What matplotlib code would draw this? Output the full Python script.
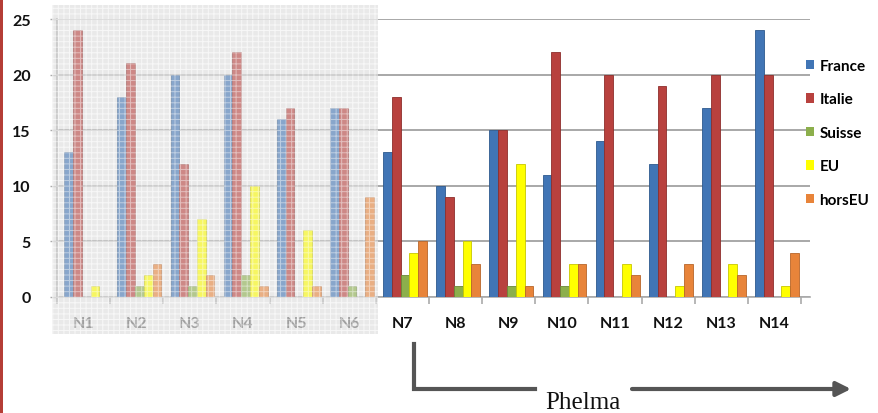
import matplotlib
matplotlib.use("Agg")
import matplotlib.pyplot as plt
import numpy as np
from matplotlib.patches import Rectangle, FancyArrowPatch
from matplotlib.lines import Line2D

categories = ["N1", "N2", "N3", "N4", "N5", "N6", "N7", "N8", "N9", "N10", "N11", "N12", "N13", "N14"]
series_names = ["France", "Italie", "Suisse", "EU", "horsEU"]
france = [13, 18, 20, 20, 16, 17, 13, 10, 15, 11, 14, 12, 17, 24]
italie = [24, 21, 12, 22, 17, 17, 18, 9, 15, 22, 20, 19, 20, 20]
suisse = [0, 1, 1, 2, 0, 1, 2, 1, 1, 1, 0, 0, 0, 0]
eu = [1, 2, 7, 10, 6, 0, 4, 5, 12, 3, 3, 1, 3, 1]
horseu = [0, 3, 2, 1, 1, 9, 5, 3, 1, 3, 2, 3, 2, 4]
yticks = [0, 5, 10, 15, 20, 25]
arrow_label = "Phelma"

colors = ["#4175B5", "#B8413E", "#8CAF4C", "#FFFF00", "#E8843A"]
edges = ["#2E5A8E", "#8E2E2C", "#6A8838", "#C8C800", "#B8652A"]

plt.rcParams["hatch.linewidth"] = 0.7

W, H = 879, 414
fig = plt.figure(figsize=(W / 100, H / 100), dpi=100)
fig.patch.set_facecolor("white")

def fx(px):
    return px / W

def fy(py):
    return 1 - py / H

# grey background region behind the first six groups
fig.add_artist(Rectangle((fx(52), fy(335)), fx(378 - 52), (335 - 6) / H, transform=fig.transFigure,
                         facecolor="#e9e9e9", edgecolor="#f6f6f6", hatch="+++",
                         linewidth=0, zorder=-2))

left_px, right_px, top_px, bot_px = 57, 810, 20, 298
ax = fig.add_axes([fx(left_px), fy(bot_px), fx(right_px - left_px), (bot_px - top_px) / H])
ax.patch.set_visible(False)

x = np.arange(len(categories))
data = [france, italie, suisse, eu, horseu]
bw = 0.165
offsets = (np.arange(5) - 2) * bw + 0.05
for i, (vals, c, e) in enumerate(zip(data, colors, edges)):
    ax.bar(x + offsets[i], vals, width=bw, color=c, edgecolor=e, linewidth=0.6, zorder=3)

ax.set_xlim(-0.5, 13.67)
ax.set_ylim(0, 25)
ax.set_yticks(yticks)
ax.yaxis.grid(True, color="#9a9a9a", linewidth=1.2, zorder=0)
ax.set_axisbelow(True)
for s in ["top", "right"]:
    ax.spines[s].set_visible(False)
ax.spines["left"].set_color("#aaaaaa")
ax.spines["bottom"].set_color("#aaaaaa")
ax.spines["left"].set_linewidth(1.2)
ax.spines["bottom"].set_linewidth(1.2)

ax.set_xticks(x)
ax.set_xticklabels(categories, fontfamily="Lato", fontweight="bold", fontsize=11.5)
ax.tick_params(axis="x", length=0, pad=14)
ax.set_xticks(np.arange(-0.5, 14, 1), minor=True)
ax.tick_params(axis="x", which="minor", length=5, color="#aaaaaa", width=1.2)
for k, lbl in enumerate(ax.get_xticklabels()):
    lbl.set_color("#6a6a6a" if k < 6 else "#111111")
ax.tick_params(axis="y", length=5, color="#aaaaaa", width=1.0, pad=14)
for lbl in ax.get_yticklabels():
    lbl.set_fontfamily("Lato")
    lbl.set_fontweight("bold")
    lbl.set_fontsize(11.5)
    lbl.set_color("#111111")

# faded overlay on the first six groups
fig.add_artist(Rectangle((fx(52), fy(335)), fx(378 - 52), (335 - 6) / H, transform=fig.transFigure,
                         facecolor=(0.92, 0.92, 0.92, 0.42), edgecolor=(1, 1, 1, 0.45),
                         hatch="+++", linewidth=0, zorder=5))

# left red stripe
fig.add_artist(Rectangle((0, 0), fx(3.5), 1, transform=fig.transFigure,
                         facecolor="#B53D36", edgecolor="none", zorder=6))

# legend
handles = [Rectangle((0, 0), 1, 1, facecolor=c, edgecolor="none") for c in colors]
fig.legend(handles, series_names, loc="upper left", bbox_to_anchor=(fx(792), fy(46)),
           frameon=False, prop={"family": "Lato", "weight": "bold", "size": 11},
           handlelength=0.55, handleheight=0.55, handletextpad=0.35, labelspacing=1.28)

# arrow annotation
lc = "#555555"
fig.add_artist(Line2D([fx(414), fx(414), fx(535)], [fy(345), fy(390), fy(390)],
                      transform=fig.transFigure, color=lc, linewidth=3, solid_joinstyle="miter"))
fig.add_artist(FancyArrowPatch((fx(632), fy(390)), (fx(851), fy(390)), transform=fig.transFigure,
                               arrowstyle="-|>,head_length=8.6,head_width=4.3", color=lc,
                               linewidth=3, mutation_scale=1, shrinkA=0, shrinkB=0))
fig.text(fx(583), fy(409), arrow_label, ha="center", va="baseline",
         fontfamily="Liberation Serif", fontsize=18, color="#111111")

fig.savefig("out.png", dpi=100)
